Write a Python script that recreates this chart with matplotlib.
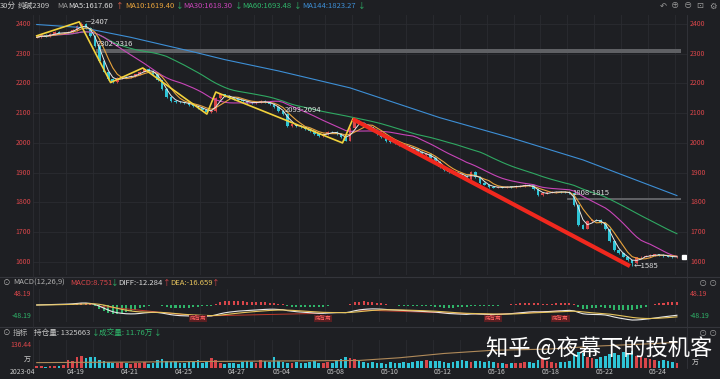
import numpy as np
import pandas as pd
import matplotlib
matplotlib.use("Agg")
import matplotlib.pyplot as plt

plt.rcParams['font.family'] = ['Noto Sans CJK SC', 'DejaVu Sans']

# 交易日 / 每日K线数 (按1小时K线近似)
days = ['04-17', '04-18', '04-19', '04-20', '04-21', '04-24', '04-25', '04-26', '04-27', '04-28',
        '05-04', '05-05', '05-08', '05-09', '05-10', '05-11', '05-12', '05-15', '05-16', '05-17',
        '05-18', '05-19', '05-22', '05-23', '05-24', '05-25']
bars_per_day = [1, 6, 6, 6, 6, 6, 6, 6, 6, 4, 6, 6, 6, 6, 6, 6, 6, 6, 6, 6, 6, 6, 6, 6, 6, 1]
date_labels = ['04-19', '04-21', '04-25', '04-27', '05-04', '05-08', '05-10', '05-12',
               '05-16', '05-18', '05-22', '05-24']

closes = [2355, 2362, 2358, 2366, 2372, 2368, 2370, 2374, 2380, 2392,
          2400, 2385, 2360, 2325, 2275, 2240, 2215, 2206, 2218, 2222,
          2220, 2226, 2230, 2240, 2248, 2242, 2232, 2210, 2180, 2155,
          2142, 2138, 2136, 2134, 2128, 2124, 2118, 2112, 2104, 2108,
          2150, 2163, 2158, 2152, 2148, 2145, 2140, 2135, 2134, 2138,
          2140, 2136, 2132, 2122, 2108, 2098, 2058, 2062, 2056, 2052,
          2046, 2040, 2030, 2022, 2030, 2038, 2036, 2030, 2020, 2008,
          2050, 2074, 2066, 2060, 2052, 2044, 2030, 2020, 2006, 2003,
          2000, 1994, 1988, 1984, 1978, 1970, 1960, 1962, 1950, 1936,
          1920, 1908, 1903, 1900, 1896, 1890, 1878, 1902, 1886, 1866,
          1860, 1852, 1850, 1852, 1850, 1853, 1852, 1855, 1856, 1858,
          1857, 1845, 1826, 1830, 1834, 1835, 1836, 1835, 1834, 1830,
          1790, 1725, 1712, 1738, 1742, 1740, 1730, 1710, 1670, 1640,
          1630, 1618, 1605, 1595, 1615, 1618, 1620, 1622, 1625, 1624,
          1620, 1618, 1616, 1617]

volumes = [10, 12, 8, 14, 10, 12, 18,
           45, 40, 60, 70, 55, 65,
           60, 48, 40, 35, 30, 28,
           35, 30, 25, 28, 30, 32,
           25, 30, 45, 50, 40, 35,
           38, 30, 28, 35, 40, 45,
           30, 35, 55, 45, 30, 25,
           28, 30, 25, 32, 40, 35,
           30, 45, 40, 35,
           60, 40, 35, 30, 28, 32,
           30, 28, 35, 40, 30, 28,
           35, 30, 45, 50, 60, 55,
           50, 40, 35, 30, 32, 28,
           30, 25, 35, 30, 28, 32,
           30, 35, 40, 38, 45, 40,
           42, 38, 35, 30, 32, 40,
           45, 40, 35, 38, 42, 35,
           40, 35, 30, 28, 25, 30,
           28, 30, 35, 32, 30, 45,
           55, 40, 35, 30, 32, 35,
           40, 75, 90, 85, 60, 55,
           50, 60, 70, 80, 85, 75,
           90, 80, 95, 70, 60, 55,
           50, 45, 40, 45, 38, 35,
           30]

# MA144 读图取样
ma144_idx = [0, 10, 21, 35, 42, 54, 70, 77, 90, 106, 122, 143]
ma144_val = [2398, 2388, 2355, 2306, 2280, 2242, 2185, 2150, 2085, 2017, 1943, 1823]

# 持仓量(万) 读图取样
oi_idx = [0, 21, 36, 54, 72, 81, 91, 102, 114, 126, 137, 143]
oi_val = [95, 96, 97, 98, 99, 104, 112, 118, 120, 126, 130, 132.6]

# 笔 / 趋势线
zig_idx = [0, 9.5, 16.5, 23.7, 38, 40, 68.3, 70.6]
zig_val = [2360, 2407, 2203, 2252, 2097, 2171, 2000, 2080]
trend_idx = [70.6, 132.5]
trend_val = [2080, 1586]

zones = [(2302, 2316, 13.3), (1808, 1815, 118.5)]
peak_high, trough_low = 2407, 1585

BG = '#1e1f23'
GRID = '#2b2c31'
RED = '#d9464a'
GREEN = '#2fb56a'
CYAN = '#2ec4d6'
W, H = 720, 379

fig = plt.figure(figsize=(7.2, 3.79), dpi=100, facecolor=BG)


def px_axes(x0, y0, x1, y1):
    a = fig.add_axes([x0 / W, 1 - y1 / H, (x1 - x0) / W, (y1 - y0) / H])
    a.set_facecolor(BG)
    for s in a.spines.values():
        s.set_visible(False)
    a.set_xticks([])
    a.set_yticks([])
    return a


def ftext(x, y, s, color, size=5.5, ha='left', **kw):
    fig.text(x / W, 1 - y / H, s, color=color, fontsize=size, ha=ha, va='center', **kw)


ax = px_axes(33, 15, 687, 275)
axm = px_axes(33, 289, 687, 322)
axv = px_axes(33, 340, 687, 368)

n = len(closes)
idx = np.arange(n)
c = np.array(closes, dtype=float)
o = np.r_[c[0], c[:-1]]
hi = np.maximum(o, c) + 3
lo = np.minimum(o, c) - 3
hi[np.argmax(c)] = peak_high
lo[np.argmin(c)] = trough_low
up = c >= o

XL = (-0.83, 145.25)
day_start = np.r_[0, np.cumsum(bars_per_day)[:-1]]
grid_x = day_start[1:] - 0.5

for a in (ax, axm, axv):
    a.set_xlim(*XL)
    for gx in grid_x:
        a.axvline(gx, color=GRID, lw=0.6, zorder=0)

# 主图
ax.set_ylim(1556, 2430)
for p in range(1600, 2401, 100):
    ax.axhline(p, color=GRID, lw=0.6, zorder=0)
    ftext(31, 15 + (2430 - p) / 874 * 260, str(p), RED, 5, ha='right')
    ftext(690, 15 + (2430 - p) / 874 * 260, str(p), RED, 5)

for lo_z, hi_z, start in zones:
    ax.fill_between([start, 144], lo_z, hi_z, color='#5f6064', lw=0, zorder=1)

ax.vlines(idx, lo, hi, color=np.where(up, RED, CYAN), lw=0.6, zorder=2)
ax.bar(idx, np.maximum(np.abs(c - o), 1.5), bottom=np.minimum(o, c), width=0.6,
       color=np.where(up, RED, CYAN), lw=0, zorder=3)

s = pd.Series(c)
ma5 = s.rolling(3, min_periods=1).mean()
ma10 = s.rolling(5, min_periods=1).mean()
ma30 = s.rolling(15, min_periods=1).mean()
ma60 = s.rolling(30, min_periods=1).mean()
ax.plot(ma144_idx, ma144_val, color='#3d8fd6', lw=0.8, zorder=4)
ax.plot(idx, ma60, color='#2fa862', lw=0.8, zorder=4)
ax.plot(idx, ma30, color='#c845b8', lw=0.8, zorder=4)
ax.plot(idx, ma10, color='#e8a33c', lw=0.8, zorder=4)
ax.plot(idx, ma5, color='#e6e6e6', lw=0.7, zorder=4)

ax.plot(zig_idx, zig_val, color='#f2d23c', lw=1.2, zorder=5)
ax.plot(trend_idx, trend_val, color='#f0281e', lw=3, solid_capstyle='butt', zorder=6)

ax.text(10.6, peak_high, '—2407', color='#e0e0e0', fontsize=5.5, va='center', zorder=7)
ax.text(13.3, 2318, '2302-2316', color='#e0e0e0', fontsize=5.5, va='bottom', zorder=7)
ax.text(55.5, 2109, '2093-2094', color='#e0e0e0', fontsize=5.5, va='center', zorder=7)
ax.text(119.6, 1831, '1808-1815', color='#e0e0e0', fontsize=5.5, va='center', zorder=7)
ax.text(133.3, trough_low, '←1585', color='#e0e0e0', fontsize=5.5, va='center', zorder=7)
ax.plot([144.6], [c[-1]], marker='s', ms=2.5, color='white', zorder=7, clip_on=False)

# MACD(12,26,9)
fast = s.ewm(span=12, adjust=False).mean()
slow = s.ewm(span=26, adjust=False).mean()
diff = fast - slow
dea = diff.ewm(span=9, adjust=False).mean()
hist = 2 * (diff - dea)
axm.set_ylim(-74.5, 70)
axm.bar(idx, hist, width=0.45, color=np.where(hist >= 0, RED, GREEN), lw=0, zorder=2)
axm.plot(idx, diff, color='#e8e8e8', lw=0.8, zorder=3)
axm.plot(idx, dea, color='#e6c35c', lw=0.8, zorder=3)
for a_i, b_i in [(14, 36), (36, 64), (72, 102), (102, 117)]:
    axm.plot([a_i, b_i], [diff[a_i], diff[b_i]], color='#c0392b', lw=0.7, zorder=2)
    axm.text(b_i, -70, '底背离', color='#ff6060', fontsize=4, ha='center', va='bottom',
             bbox=dict(boxstyle='square,pad=0.15', fc='#5a1f22', ec='none'), zorder=4)
for yv, txt, col in [(48.19, '48.19', RED), (-48.19, '-48.19', GREEN)]:
    ypx = 289 + (70 - yv) / 144.5 * 33
    ftext(31, ypx, txt, col, 5, ha='right')
    ftext(690, ypx, txt, col, 5)

# 成交量 + 持仓量
axv.set_ylim(0, 159)
axv.bar(idx, volumes, width=0.6, color=np.where(up, RED, CYAN), lw=0, zorder=2)
axo = axv.twinx()
axo.set_ylim(85, 137)
axo.set_yticks([])
for sp in axo.spines.values():
    sp.set_visible(False)
axo.plot(oi_idx, oi_val, color='#b08a5a', lw=0.8)
ftext(31, 345, '136.44', RED, 5, ha='right')
ftext(31, 360, '万', '#c8c8c8', 5, ha='right')
ftext(692, 363, '万', '#c8c8c8', 5)

# 日期
ftext(22, 372.5, '2023-04', '#c8c8c8', 5, ha='center')
day_pos = dict(zip(days, day_start))
for d in date_labels:
    xpx = 33 + (day_pos[d] - 0.5 - XL[0]) / (XL[1] - XL[0]) * 654
    ftext(xpx + 10, 372.5, d, '#c8c8c8', 5, ha='center')

# 分隔线
for ypx in (277, 327):
    fig.add_artist(plt.Line2D([0, 1], [1 - ypx / H] * 2, color='#34353b', lw=0.8))
fig.add_artist(plt.Line2D([687 / W] * 2, [1 - 368 / H, 1 - 15 / H], color='#34353b', lw=0.6))
fig.add_artist(plt.Line2D([33 / W] * 2, [1 - 368 / H, 1 - 15 / H], color='#2c2d32', lw=0.6))

# 顶部标题
for x, t, col in [(0, '30分', '#c8c8c8'), (18, '纯碱2309', '#c8c8c8'), (57, 'MA', '#9a9a9a'),
                  (68, 'MA5:1617.60', '#dcdcdc'), (116, '↑', '#e0604a'),
                  (125, 'MA10:1619.40', '#e8a33c'), (176, '↓', GREEN),
                  (183, 'MA30:1618.30', '#c845b8'), (235, '↓', GREEN),
                  (242, 'MA60:1693.48', GREEN), (294, '↓', GREEN),
                  (302, 'MA144:1823.27', '#3d8fd6'), (358, '↓', GREEN)]:
    ftext(x, 6, t, col, 5.5)
for x, t in [(663, '↶'), (675, '⊕'), (688, '⊖'), (700, '⊡'), (713, '⚙')]:
    ftext(x, 6, t, '#9a9a9a', 6, ha='center')

for x, t, col in [(3, '⊙', '#b0b0b0'), (13, 'MACD(12,26,9)', '#b0b0b0'), (70, 'MACD:8.751', RED),
                  (111, '↓', GREEN), (118, 'DIFF:-12.284', '#dcdcdc'), (163, '↑', RED),
                  (170, 'DEA:-16.659', '#e6c35c'), (212, '↑', RED)]:
    ftext(x, 283, t, col, 5.5)
for x, t, col in [(3, '⊙', '#b0b0b0'), (13, '指标', '#b0b0b0'), (34, '持仓量: 1325663', '#c8c8c8'),
                  (92, '↓', GREEN), (99, '成交量: 11.76万', GREEN), (154, '↓', GREEN)]:
    ftext(x, 333, t, col, 5.5)
for ypx in (283, 333):
    ftext(703, ypx, '⊙', '#9a9a9a', 6, ha='center')
    ftext(713, ypx, '⊙', '#9a9a9a', 6, ha='center')

# 水印
ftext(712, 348, '知乎 @夜幕下的投机客', 'white', 16, ha='right', zorder=20)

fig.savefig('out.png', dpi=100, facecolor=BG)
